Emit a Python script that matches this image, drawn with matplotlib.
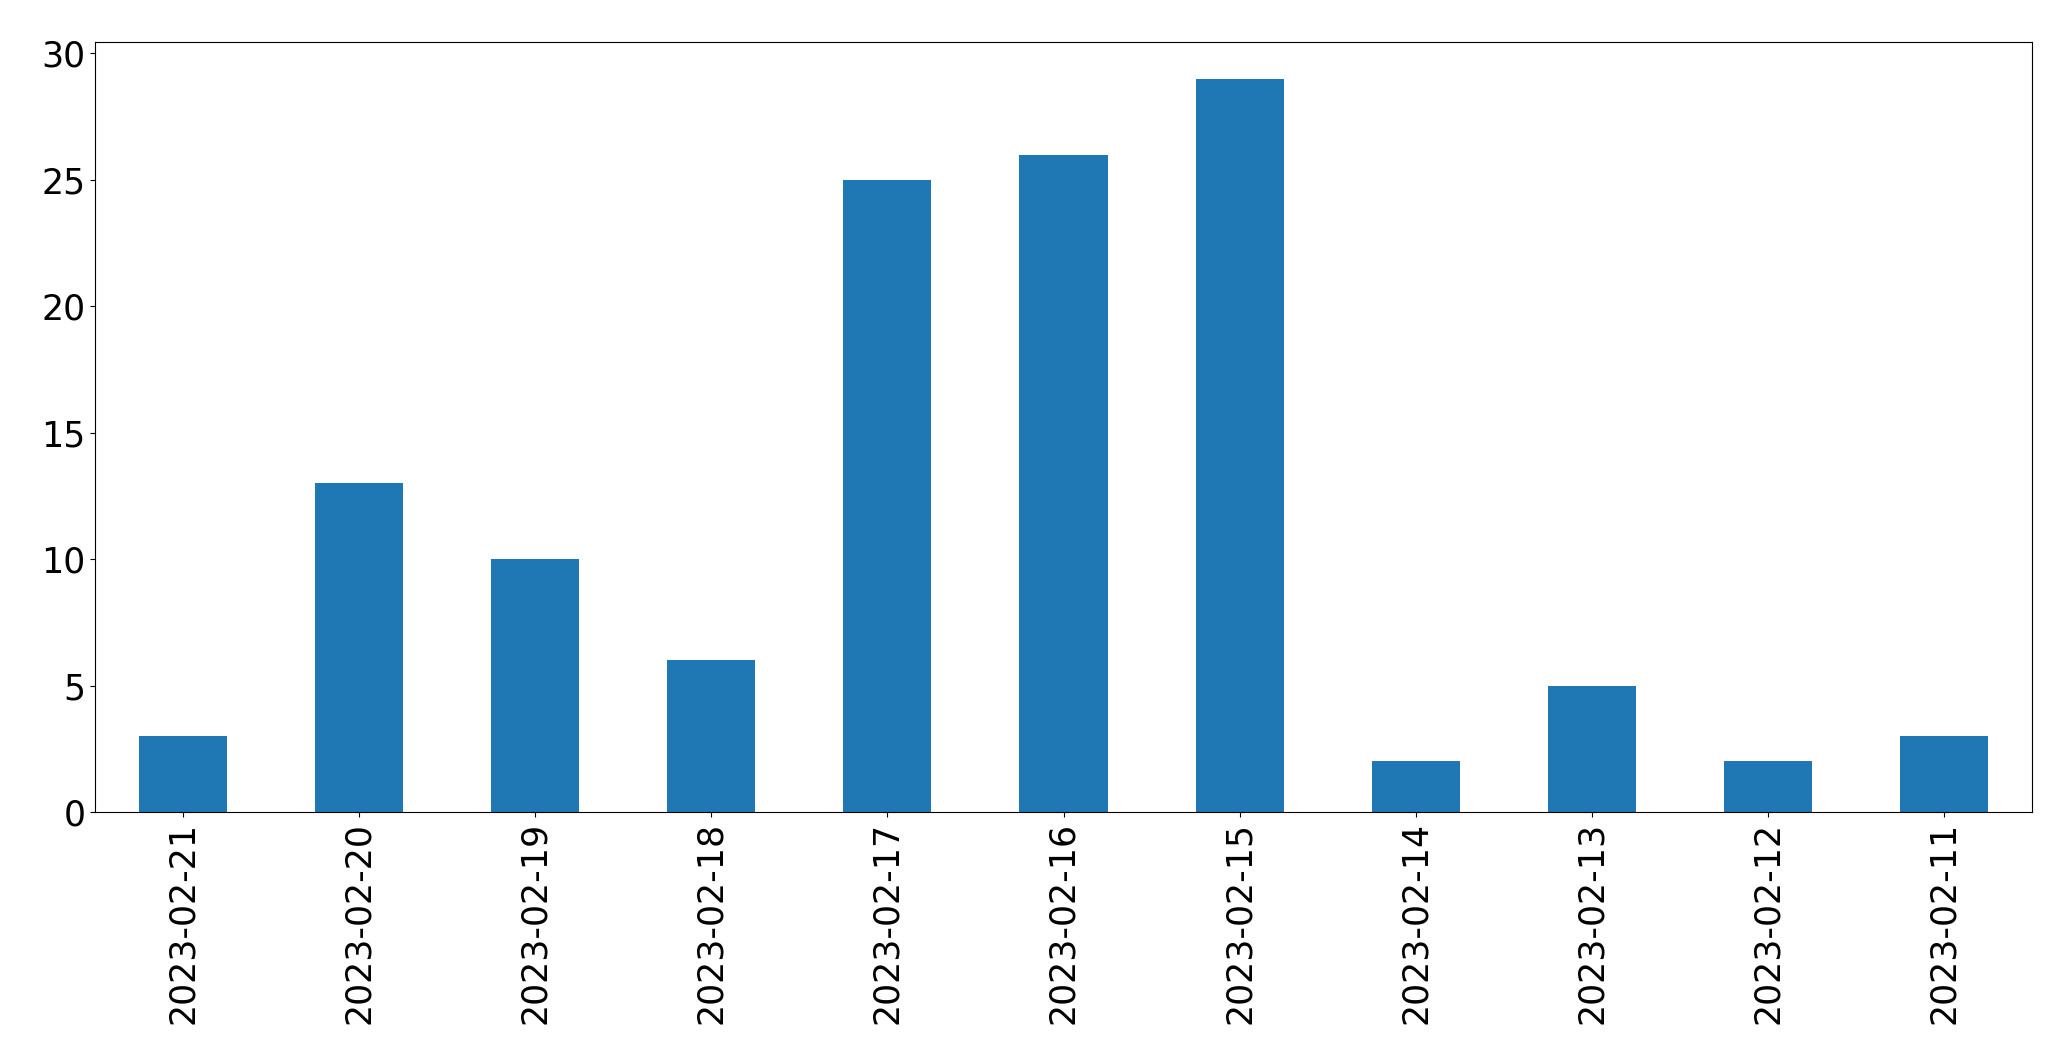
import matplotlib
matplotlib.use("Agg")
import matplotlib.pyplot as plt

dates = ['2023-02-21', '2023-02-20', '2023-02-19', '2023-02-18', '2023-02-17', '2023-02-16',
         '2023-02-15', '2023-02-14', '2023-02-13', '2023-02-12', '2023-02-11']
counts = [3, 13, 10, 6, 25, 26, 29, 2, 5, 2, 3]

fig, ax = plt.subplots(figsize=(20.71, 10.64), dpi=100)
fig.subplots_adjust(left=95/2071, right=2032/2071, top=1-42/1064, bottom=1-812/1064)

pos = list(range(len(dates)))
ax.bar(pos, counts, width=0.5, color='#1f77b4')
ax.set_xlim(-0.5, len(dates) - 0.5)
ax.set_ylim(0, max(counts) * 1.05)
ax.set_xticks(pos)
ax.set_xticklabels(dates, rotation=90, fontsize=25)
ax.tick_params(axis='y', labelsize=25)

fig.savefig('out.png', dpi=100)
